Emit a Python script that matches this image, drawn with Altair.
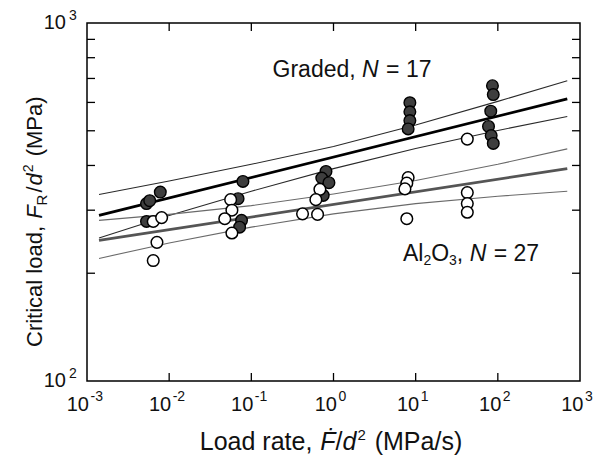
import altair as alt
import pandas as pd

# ---------------- data ----------------
graded_x = [0.0053, 0.0058, 0.0078, 0.0053,
            0.079, 0.069, 0.076, 0.072,
            0.81, 0.72, 0.88, 0.75,
            8.5, 8.5, 8.5, 8.1,
            86, 88, 82, 77, 83, 88]
graded_y = [313, 319, 337, 279,
            361, 323, 281, 269,
            385, 369, 358, 330,
            599, 565, 534, 506,
            668, 631, 567, 514, 485, 461]

alumina_x = [0.0064, 0.0081, 0.0071, 0.0064,
             0.056, 0.058, 0.0475, 0.058,
             0.683, 0.61, 0.42, 0.64,
             8.1, 7.8, 7.4, 7.8,
             42.5, 42.5, 42.5, 42.5]
alumina_y = [279, 286, 244, 217,
             321, 300, 284, 259,
             343, 321, 293, 292,
             370, 357, 344, 284,
             474, 336, 313, 296]

fit_x = [0.0014, 700]
graded_fit_y = [290, 614]
alumina_fit_y = [247, 392]

band_x = [0.0014, 0.01, 0.1, 1, 10, 100, 700]
graded_upper = [332, 362, 403, 452, 519, 604, 690]
graded_lower = [251, 290, 339, 392, 446, 501, 548]
alumina_upper = [281, 292, 309, 333, 363, 403, 445]
alumina_lower = [220, 243, 269, 293, 313, 328, 339]

x_decades = [1e-3, 1e-2, 1e-1, 1e0, 1e1, 1e2, 1e3]
x_exponents = ["-3", "-2", "-1", "0", "1", "2", "3"]
x_inner_ticks = [1e-2, 1e-1, 1e0, 1e1, 1e2]
y_decades = [100, 1000]
y_exponents = ["2", "3"]
y_minor = [200, 300, 400, 500, 600, 700, 800, 900]

graded_label = {"x": 1.68, "y": 708}
alumina_label = {"x": 7.0, "y": 216}

# ---------------- styling ----------------
FONT = "Liberation Sans"
TXT = "#111111"
W, H = 493, 358

AW = {" ": 278, ",": 278, "(": 333, ")": 333, "/": 278, "=": 584,
      "-": 333, "A": 667, "C": 722, "F": 611, "Ḟ": 611, "G": 778, "L": 556,
      "M": 833, "N": 722, "O": 778, "P": 667, "R": 722, "a": 556, "c": 500,
      "d": 556, "e": 556, "i": 222, "l": 222, "o": 556, "r": 333, "s": 500,
      "t": 278}


def tw(s, size):
    return sum(AW.get(c, 556) for c in s) * size / 1000.0


def sp(size):
    return 0.278 * size


xs = alt.Scale(type="log", domain=[1e-3, 1e3], nice=False)
ys = alt.Scale(type="log", domain=[100, 1000], nice=False)


def X(f="x"):
    return alt.X(f"{f}:Q", scale=xs, axis=None)


def Y(f="y"):
    return alt.Y(f"{f}:Q", scale=ys, axis=None)


layers = []


def line(xv, yv, color, width):
    return alt.Chart(pd.DataFrame({"x": xv, "y": yv})).mark_line(
        color=color, strokeWidth=width).encode(x=X(), y=Y())


layers.append(line(band_x, graded_upper, "#2a2a2a", 1.1))
layers.append(line(band_x, graded_lower, "#2a2a2a", 1.1))
layers.append(line(band_x, alumina_upper, "#6a6a6a", 1.1))
layers.append(line(band_x, alumina_lower, "#6a6a6a", 1.1))
layers.append(line(fit_x, alumina_fit_y, "#555555", 2.8))
layers.append(line(fit_x, graded_fit_y, "#000000", 2.8))

layers.append(alt.Chart(pd.DataFrame({"x": graded_x, "y": graded_y})).mark_circle(
    size=135, color="#3e3e3e", fillOpacity=1, opacity=1, stroke="black",
    strokeWidth=1.4).encode(x=X(), y=Y()))
layers.append(alt.Chart(pd.DataFrame({"x": alumina_x, "y": alumina_y})).mark_circle(
    size=135, color="white", fillOpacity=1, opacity=1, stroke="black",
    strokeWidth=1.5).encode(x=X(), y=Y()))

# inward ticks
tdf = pd.DataFrame({"x": x_inner_ticks})
layers.append(alt.Chart(tdf).mark_rule(color="black", strokeWidth=1.3).encode(
    x=X(), y=alt.value(H), y2=alt.value(H - 8)))
layers.append(alt.Chart(tdf).mark_rule(color="black", strokeWidth=1.3).encode(
    x=X(), y=alt.value(0), y2=alt.value(8)))
ydf = pd.DataFrame({"y": y_minor})
layers.append(alt.Chart(ydf).mark_rule(color="black", strokeWidth=1.3).encode(
    y=Y(), x=alt.value(0), x2=alt.value(8)))
layers.append(alt.Chart(ydf).mark_rule(color="black", strokeWidth=1.3).encode(
    y=Y(), x=alt.value(W), x2=alt.value(W - 8)))

# x tick labels
xl = pd.DataFrame({"x": x_decades, "e": x_exponents,
                   "neg": [e.startswith("-") for e in x_exponents]})
for neg, d10, dsup in [(True, 2, 3.5), (False, 3.5, 5)]:
    flt = "datum.neg" if neg else "!datum.neg"
    layers.append(alt.Chart(xl).transform_filter(flt).mark_text(
        align="right", baseline="alphabetic", font=FONT, fontSize=20, color=TXT,
        dx=d10, text="10").encode(x=X(), y=alt.value(H + 30)))
    layers.append(alt.Chart(xl).transform_filter(flt).mark_text(
        align="left", baseline="alphabetic", font=FONT, fontSize=14, color=TXT,
        dx=dsup).encode(x=X(), y=alt.value(H + 20), text="e:N"))

# y tick labels
yl = pd.DataFrame({"y": y_decades, "e": y_exponents})
layers.append(alt.Chart(yl).mark_text(
    align="right", baseline="middle", font=FONT, fontSize=20, color=TXT,
    text="10").encode(y=Y(), x=alt.value(-21)))
layers.append(alt.Chart(yl).mark_text(
    align="left", baseline="alphabetic", font=FONT, fontSize=14, color=TXT,
    dy=-3).encode(y=Y(), x=alt.value(-18), text="e:N"))


def rich(segments, data, enc, angle=0, center=True):
    total = sum(tw(t, s) + g for t, s, st, dy, g in segments)
    cum = -total / 2 if center else 0.0
    out = []
    for t, s, st, dy, g in segments:
        d = dict(data)
        d["t"] = [t]
        out.append(alt.Chart(pd.DataFrame(d)).mark_text(
            align="left", baseline="alphabetic", font=FONT, fontSize=s,
            fontStyle=st, color=TXT, dx=cum, dy=dy, angle=angle).encode(
            text="t:N", **enc))
        cum += tw(t, s) + g
    return out


TS = 25
x_title = [("Load rate,", TS, "normal", 0, sp(TS) + 1), ("Ḟ", TS, "italic", 0, 0),
           ("/", TS, "normal", 0, 0), ("d", TS, "italic", 0, 1),
           ("2", 15, "normal", -10, 2 + sp(TS)), ("(MPa/s)", TS, "normal", 0, 0)]
layers += rich(x_title, {"a": [0]}, {"x": alt.value(244), "y": alt.value(H + 69)})

TY = 22
y_title = [("Critical load,", TY, "normal", 0, sp(TY) + 1), ("F", TY, "italic", 0, 0),
           ("R", 15, "normal", 5, 2), ("/", TY, "normal", 0, 1),
           ("d", TY, "italic", 0, 1), ("2", 14, "normal", -9, 2 + sp(TY)),
           ("(MPa)", TY, "normal", 0, 0)]
layers += rich(y_title, {"a": [0]}, {"x": alt.value(-45), "y": alt.value(324)},
               angle=270, center=False)

AS = 23
g_ann = [("Graded,", AS, "normal", 0, sp(AS)), ("N", AS, "italic", 0, sp(AS) + 1),
         ("= 17", AS, "normal", 0, 0)]
layers += rich(g_ann, {"x": [graded_label["x"]], "y": [graded_label["y"]]},
               {"x": X(), "y": Y()})
a_ann = [("Al", AS, "normal", 0, 0), ("2", 14, "normal", 4, 0),
         ("O", AS, "normal", 0, 0), ("3", 14, "normal", 4, 0),
         (",", AS, "normal", 0, sp(AS)), ("N", AS, "italic", 0, sp(AS) + 1),
         ("= 27", AS, "normal", 0, 0)]
layers += rich(a_ann, {"x": [alumina_label["x"]], "y": [alumina_label["y"]]},
               {"x": X(), "y": Y()}, center=False)

chart = alt.layer(*layers).properties(
    width=W, height=H, autosize="none",
    padding={"left": 79, "top": 15, "right": 14, "bottom": 80},
).configure_view(stroke="black", strokeWidth=1.5)

chart.save("out.html", embed_options={"renderer": "svg", "actions": False})
